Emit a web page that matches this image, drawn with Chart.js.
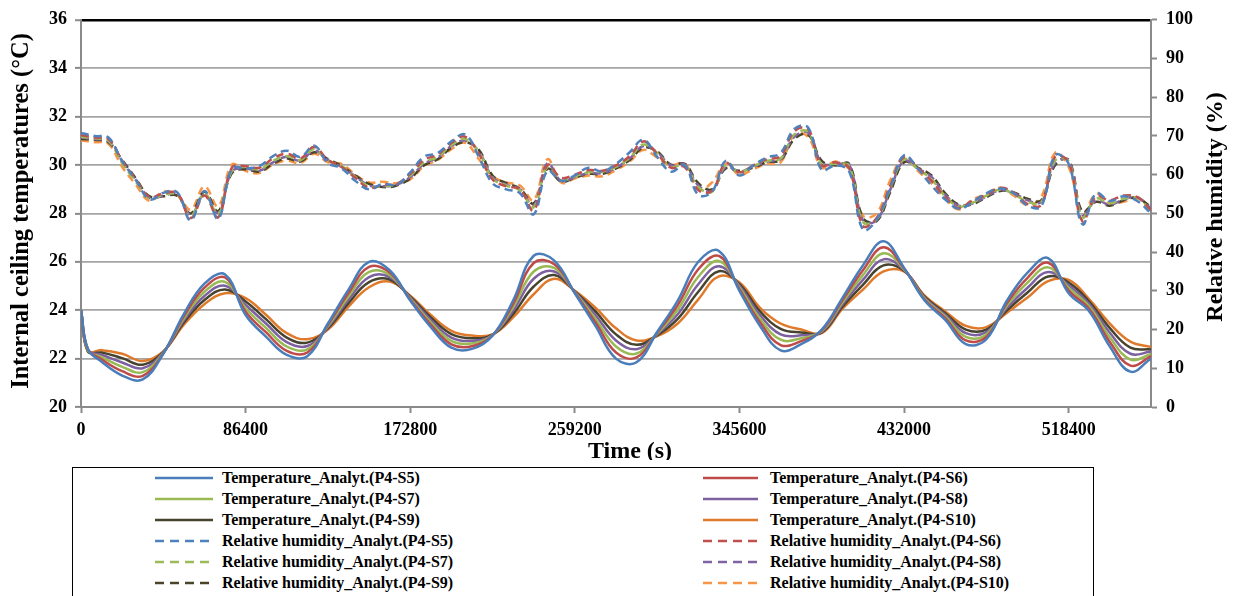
<!DOCTYPE html>
<html><head><meta charset="utf-8">
<script src="https://cdn.jsdelivr.net/npm/chart.js@4.4.1/dist/chart.umd.min.js"></script>
<style>
html,body{margin:0;padding:0;background:#fff;overflow:hidden;width:1238px;height:596px}
#wrap{position:relative;width:1238px;height:596px}
#c{position:absolute;left:0;top:0}
#legendBox{position:absolute;left:72px;top:467px;width:1022px;height:150px;border:1.5px solid #000;box-sizing:border-box}
.item{position:absolute;height:20px;font:bold 16px "Liberation Serif",serif;color:#000;white-space:nowrap;line-height:20px}
</style></head>
<body><div id="wrap"><canvas id="c" width="1238" height="460"></canvas><div id="legendBox"></div></div>
<script>
// ---- DATA ----
const tempTime = [0,3600,10800,21600,32400,43200,54000,64800,75600,86400,97200,108000,118800,129600,140400,151200,162000,172800,183600,194400,205200,216000,226800,237600,248400,259200,270000,280800,291600,302400,313200,324000,334800,345600,356400,367200,378000,388800,399600,410400,421200,432000,442800,453600,464400,475200,486000,496800,507600,518400,529200,540000,550800,561600];
const rhTime = [0,7200,14400,21600,28800,36000,43200,50400,57600,64800,72000,79200,86400,93600,100800,108000,115200,122400,129600,136800,144000,151200,158400,165600,172800,180000,187200,194400,201600,208800,216000,223200,230400,237600,244800,252000,259200,266400,273600,280800,288000,295200,302400,309600,316800,324000,331200,338400,345600,352800,360000,367200,374400,381600,388800,396000,403200,410400,417600,424800,432000,439200,446400,453600,460800,468000,475200,482400,489600,496800,504000,511200,518400,525600,532800,540000,547200,554400,561600];
const xTickValues = [0,86400,172800,259200,345600,432000,518400];

const tempS5 = [24.0,22.4,21.87,21.3,21.14,22.2,23.85,25.1,25.48,23.8,22.9,22.15,22.1,23.45,24.85,26.0,25.65,24.4,23.3,22.45,22.4,22.95,24.4,26.25,26.05,24.7,23.35,22.0,21.85,23.1,24.4,26.0,26.45,24.8,23.35,22.34,22.6,23.2,24.5,25.85,26.85,25.75,24.4,23.6,22.6,22.8,24.4,25.55,26.15,24.7,23.95,22.5,21.46,22.0];
const tempS6 = [24.0,22.4,21.97,21.48,21.29,22.22,23.76,24.93,25.35,23.94,23.08,22.32,22.25,23.4,24.71,25.79,25.56,24.44,23.4,22.59,22.51,22.96,24.26,25.95,25.9,24.72,23.5,22.25,22.05,23.07,24.21,25.69,26.24,24.87,23.5,22.56,22.72,23.17,24.41,25.65,26.6,25.72,24.44,23.67,22.75,22.9,24.3,25.34,25.96,24.81,24.05,22.69,21.71,22.1];
const tempS7 = [24.0,22.35,22.06,21.66,21.44,22.24,23.67,24.76,25.17,24.08,23.26,22.5,22.38,23.35,24.57,25.58,25.46,24.48,23.5,22.73,22.62,22.97,24.12,25.6,25.75,24.74,23.65,22.5,22.21,23.03,24.02,25.38,26.03,24.94,23.65,22.78,22.84,23.14,24.32,25.45,26.35,25.69,24.48,23.74,22.9,23.0,24.2,25.14,25.77,24.92,24.15,22.88,21.96,22.19];
const tempS8 = [24.0,22.35,22.16,21.84,21.6,22.26,23.58,24.59,25.01,24.22,23.44,22.68,22.52,23.3,24.43,25.37,25.37,24.52,23.6,22.87,22.73,22.98,23.98,25.3,25.6,24.76,23.8,22.75,22.39,23.0,23.83,25.07,25.82,25.01,23.8,23.0,22.96,23.11,24.23,25.25,26.1,25.66,24.52,23.81,23.05,23.1,24.1,24.93,25.58,25.03,24.25,23.07,22.2,22.29];
const tempS9 = [24.0,22.3,22.25,22.02,21.75,22.28,23.49,24.42,24.86,24.36,23.62,22.87,22.66,23.25,24.29,25.16,25.27,24.56,23.7,23.01,22.84,22.99,23.84,24.98,25.45,24.78,23.95,23.0,22.57,22.96,23.64,24.76,25.61,25.08,23.95,23.23,23.08,23.08,24.14,25.05,25.85,25.63,24.56,23.88,23.2,23.2,24.0,24.73,25.39,25.14,24.35,23.26,22.45,22.38];
const tempS10 = [24.0,22.3,22.35,22.2,21.9,22.3,23.4,24.25,24.7,24.5,23.8,23.05,22.8,23.2,24.15,24.95,25.18,24.6,23.8,23.15,22.95,23.0,23.7,24.66,25.3,24.8,24.1,23.25,22.75,22.93,23.45,24.45,25.4,25.15,24.1,23.45,23.2,23.05,24.05,24.85,25.6,25.6,24.6,23.95,23.35,23.3,23.9,24.52,25.2,25.25,24.45,23.45,22.7,22.48];

const rhS5 = [70.8,70.0,69.6,63.5,58.6,53.6,55.3,55.5,48.2,55.8,48.6,61.6,61.6,62.2,64.8,66.2,64.6,67.5,63.0,61.6,58.4,56.2,57.6,57.4,60.6,64.6,65.6,68.6,70.4,64.6,57.8,56.2,55.2,49.8,61.0,58.4,59.8,61.8,60.8,62.8,65.8,69.0,64.6,60.8,62.4,54.8,55.6,63.6,59.8,62.4,64.4,65.6,71.8,72.2,61.2,62.4,60.8,45.8,48.4,56.8,65.0,61.6,57.2,53.6,51.2,53.0,55.2,56.4,55.2,52.0,51.8,65.0,62.8,47.2,55.2,53.2,54.4,53.2,50.0];
const rhS6 = [70.2,69.6,69.2,63.6,58.8,54.2,55.2,55.2,48.8,54.6,49.0,61.8,62.2,61.8,64.2,65.4,64.2,67.2,63.8,62.0,59.2,56.6,57.4,57.6,60.2,63.8,65.2,68.2,69.8,65.4,58.8,57.0,56.2,50.8,62.5,59.2,60.0,61.2,61.0,62.4,64.8,68.6,65.4,61.8,62.0,56.0,55.8,63.0,60.6,62.4,64.0,64.8,71.2,71.8,62.4,63.2,61.6,46.8,48.8,57.2,64.6,61.8,58.4,54.2,51.4,53.4,54.8,56.6,55.4,52.4,52.2,64.6,63.2,48.0,54.4,53.4,54.6,54.2,50.8];
const rhS7 = [69.8,69.4,68.8,63.0,58.2,53.8,54.8,54.8,49.4,55.2,49.8,61.0,62.0,61.4,63.6,64.8,63.8,66.6,63.6,62.2,59.4,57.0,57.0,57.6,59.8,63.2,64.6,67.6,69.2,65.8,59.0,57.2,56.0,51.6,62.0,58.6,59.6,60.6,60.8,62.0,64.4,67.8,65.6,62.0,62.4,56.8,55.6,62.6,60.6,62.2,63.6,64.2,70.4,71.0,62.6,62.8,62.2,47.8,48.4,56.6,64.0,61.4,58.8,54.4,51.8,52.8,54.6,56.2,55.0,53.0,52.8,63.6,63.4,49.0,53.8,52.6,53.8,54.0,50.6];
const rhS8 = [69.6,69.2,68.6,63.4,58.6,54.0,54.6,55.0,49.6,54.8,50.2,60.8,61.6,61.0,63.2,64.6,63.6,66.2,63.8,62.0,59.6,57.2,57.0,57.4,59.4,62.8,64.4,67.4,68.8,66.0,59.4,57.4,56.2,52.0,63.0,58.4,59.4,60.4,60.4,61.8,64.2,67.4,65.8,62.4,62.6,57.2,55.8,62.0,60.8,62.0,63.4,64.0,69.8,70.8,63.0,62.6,62.6,48.2,48.2,56.2,63.6,61.6,59.4,54.8,52.0,52.6,54.4,56.0,55.2,53.4,53.0,63.0,63.6,49.6,53.4,52.2,53.6,54.2,51.2];
const rhS9 = [69.2,69.0,68.4,63.8,59.0,54.4,54.4,54.6,50.0,55.6,50.6,60.4,61.4,60.8,62.8,64.2,63.4,65.8,64.0,62.2,59.8,57.6,56.8,57.2,59.0,62.4,64.0,67.0,68.4,66.4,59.8,57.8,56.4,52.6,61.5,58.2,59.2,60.2,60.2,61.6,63.8,67.0,66.0,62.6,62.8,57.8,56.2,61.6,61.0,61.8,63.2,63.8,69.2,70.4,63.6,62.4,62.8,48.8,48.0,55.6,63.2,61.8,59.8,55.2,52.2,52.4,54.2,55.8,55.4,53.8,53.4,62.4,63.8,50.4,53.0,52.0,53.4,54.0,51.6];
const rhS10 = [68.8,68.4,68.0,62.0,57.4,53.2,55.6,54.8,51.0,57.0,51.8,62.6,61.0,60.4,62.6,63.6,63.0,65.4,63.2,62.8,60.0,58.0,58.2,57.8,58.8,62.2,63.8,66.6,68.2,64.0,59.6,58.0,57.2,53.4,64.0,58.0,59.0,59.8,59.6,61.2,63.4,66.4,64.4,62.4,63.0,56.2,58.0,62.8,60.0,61.4,62.8,63.2,70.2,69.8,61.8,63.4,61.2,49.4,50.0,58.6,64.6,61.0,57.8,53.8,51.0,53.6,55.0,56.6,54.6,52.2,54.2,65.6,62.0,49.8,55.0,52.6,53.0,54.2,50.8];

const sensors = ['P4-S5','P4-S6','P4-S7','P4-S8','P4-S9','P4-S10'];
const tempSeries = [tempS5,tempS6,tempS7,tempS8,tempS9,tempS10];
const rhSeries = [rhS5,rhS6,rhS7,rhS8,rhS9,rhS10];
const tempColors = ['#4A7EBB','#BE4B48','#98B954','#7D60A0','#46432E','#E07A2B'];
const rhColors = ['#4F81BD','#C0504D','#9BBB59','#8064A2','#4A452A','#F79646'];
const xTitle = 'Time (s)';
const yTitle = 'Internal ceiling temperatures (\u00B0C)';
const y1Title = 'Relative humidity (%)';

// ---- BUILD ----
const FONT = 'Liberation Serif';
Chart.defaults.font.family = FONT;
const datasets = [];
tempSeries.forEach((arr,i)=>datasets.push({
  label:'Temperature_Analyt.('+sensors[i]+')', yAxisID:'y',
  data: tempTime.map((t,j)=>({x:t,y:arr[j]})),
  borderColor:tempColors[i], backgroundColor:tempColors[i], borderWidth:2.5,
  pointRadius:0, tension:0.4, fill:false, _dash:false
}));
rhSeries.forEach((arr,i)=>datasets.push({
  label:'Relative humidity_Analyt.('+sensors[i]+')', yAxisID:'y1',
  data: rhTime.map((t,j)=>({x:t,y:arr[j]})),
  borderColor:rhColors[i], backgroundColor:rhColors[i], borderWidth:2.5, borderDash:[8,5],
  pointRadius:0, tension:0.4, fill:false, _dash:true
}));

const tickFont = {family:FONT, size:18, weight:'bold'};
const titlePlugin = {
  id:'axisTitles',
  afterDraw(chart){
    const ctx = chart.ctx;
    ctx.save();
    ctx.fillStyle = '#000';
    ctx.textAlign = 'center';
    ctx.textBaseline = 'middle';
    ctx.font = 'bold 24.5px "Liberation Serif"';
    ctx.save(); ctx.translate(22,211); ctx.rotate(-Math.PI/2); ctx.fillText(yTitle,0,0); ctx.restore();
    ctx.font = 'bold 24px "Liberation Serif"';
    ctx.save(); ctx.translate(1216,207); ctx.rotate(-Math.PI/2); ctx.fillText(y1Title,0,0); ctx.restore();
    ctx.fillText(xTitle,630,452);
    ctx.restore();
  }
};

new Chart(document.getElementById('c'), {
  type:'line',
  data:{datasets},
  options:{
    responsive:false, animation:false, devicePixelRatio:1,
    layout:{padding:{top:16,left:0,right:0,bottom:0}},
    plugins:{legend:{display:false}, tooltip:{enabled:false}},
    scales:{
      x:{type:'linear', position:'bottom', min:0, max:561600,
        afterBuildTicks:s=>{ s.ticks = xTickValues.map(v=>({value:v})); },
        afterFit:s=>{ s.height = 53; },
        ticks:{autoSkip:false, maxRotation:0, color:'#000', font:tickFont, padding:7, callback:v=>String(v)},
        grid:{drawOnChartArea:false, drawTicks:true, tickLength:6, tickColor:'#8A8A8A', tickWidth:2},
        border:{color:'#8A8A8A', width:2}
      },
      y:{type:'linear', position:'left', min:20, max:36,
        afterFit:s=>{ s.width = 81; },
        ticks:{stepSize:2, color:'#000', font:tickFont, padding:8},
        grid:{color:c=>(c.tick && c.tick.value===36)?'#000':'#A5A5A5',
              lineWidth:c=>(c.tick && c.tick.value===36)?2.5:1.75,
              tickLength:6, tickColor:'#8A8A8A', tickWidth:2},
        border:{color:'#8A8A8A', width:2}
      },
      y1:{type:'linear', position:'right', min:0, max:100,
        afterFit:s=>{ s.width = 87; },
        ticks:{stepSize:10, color:'#000', font:tickFont, padding:9},
        grid:{drawOnChartArea:false, tickLength:6, tickColor:'#8A8A8A', tickWidth:2},
        border:{color:'#8A8A8A', width:2}
      }
    }
  },
  plugins:[titlePlugin]
});

// ---- HTML legend (two columns, row-major order) ----
const wrap = document.getElementById('wrap');
const colSample = [[155,213,222],[703,758,770]];
datasets.forEach((ds,i)=>{
  const row = Math.floor(i/2), col = i%2;
  const yc = 478 + 21*row;
  const [x1,x2,tx] = colSample[col];
  const svgNS = 'http://www.w3.org/2000/svg';
  const svg = document.createElementNS(svgNS,'svg');
  svg.setAttribute('width', x2-x1); svg.setAttribute('height', 6);
  svg.style.position='absolute'; svg.style.left=x1+'px'; svg.style.top=(yc-3)+'px';
  const ln = document.createElementNS(svgNS,'line');
  ln.setAttribute('x1',0); ln.setAttribute('x2',x2-x1); ln.setAttribute('y1',3); ln.setAttribute('y2',3);
  ln.setAttribute('stroke', ds.borderColor); ln.setAttribute('stroke-width', 2.5);
  if (ds._dash) ln.setAttribute('stroke-dasharray','9,6');
  svg.appendChild(ln);
  wrap.appendChild(svg);
  const t = document.createElement('div');
  t.className='item'; t.style.left=tx+'px'; t.style.top=(yc-10)+'px';
  t.textContent = ds.label;
  wrap.appendChild(t);
});
</script>
</body></html>
